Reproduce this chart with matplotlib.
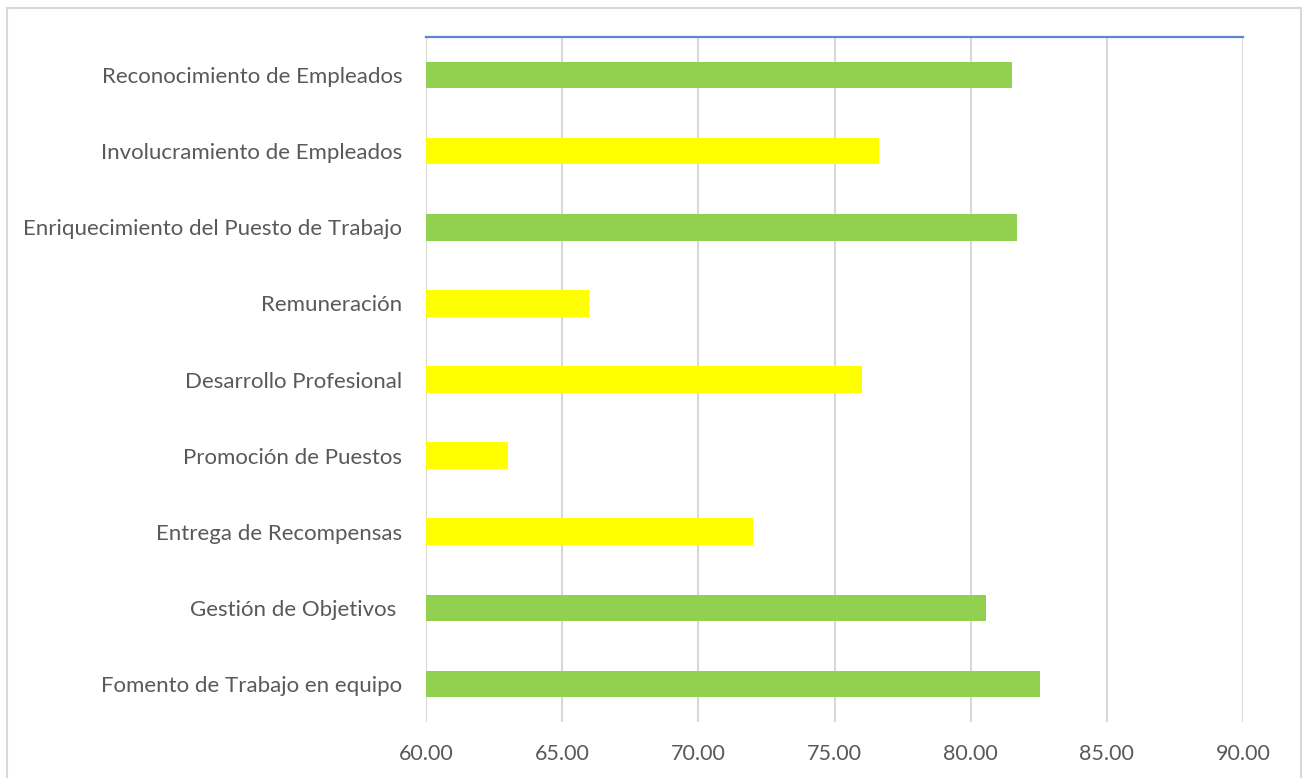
import matplotlib.pyplot as plt
from matplotlib.patches import Rectangle

# categories from bottom to top, as drawn
categorias = [
    "Fomento de Trabajo en equipo",
    "Gestión de Objetivos ",
    "Entrega de Recompensas",
    "Promoción de Puestos",
    "Desarrollo Profesional",
    "Remuneración",
    "Enriquecimiento del Puesto de Trabajo",
    "Involucramiento de Empleados",
    "Reconocimiento de Empleados",
]
valores = [82.55, 80.55, 72.0, 63.0, 76.0, 66.0, 81.7, 76.65, 81.5]
colores = ["#92D050", "#92D050", "#FFFF00", "#FFFF00", "#FFFF00",
           "#FFFF00", "#92D050", "#FFFF00", "#92D050"]
ticks_x = [60, 65, 70, 75, 80, 85, 90]

plt.rcParams['font.family'] = ['Lato', 'DejaVu Sans']

fig = plt.figure(figsize=(13.06, 7.78), dpi=100)
ax = fig.add_axes([426 / 1306, 1 - 722 / 778, (1243 - 426) / 1306, (722 - 37) / 778])

base = ticks_x[0]
ax.barh(range(len(categorias)), [v - base for v in valores], left=base,
        height=0.35, color=colores, zorder=3)

ax.set_xlim(ticks_x[0], ticks_x[-1])
ax.set_ylim(-0.5, len(categorias) - 0.5)
ax.set_xticks(ticks_x)
ax.set_xticklabels([f"{t:.2f}" for t in ticks_x])
ax.set_yticks(range(len(categorias)))
ax.set_yticklabels(categorias)

ax.grid(axis='x', color='#D9D9D9', linewidth=1.5, zorder=0)
ax.tick_params(axis='both', length=0, labelcolor='#595959')
ax.tick_params(axis='y', pad=17, labelsize=16)
ax.tick_params(axis='x', pad=16, labelsize=15.5)

for s in ['left', 'right', 'bottom']:
    ax.spines[s].set_visible(False)
ax.spines['top'].set_color('#5B87CC')
ax.spines['top'].set_linewidth(1.6)
ax.spines['top'].set_zorder(4)

# chart area border
fig.patches.append(Rectangle((7 / 1306, -0.05), (1301 - 7) / 1306, 1 + 0.05 - 8 / 778,
                             transform=fig.transFigure, fill=False,
                             edgecolor='#D9D9D9', linewidth=1.5))

fig.savefig("out.png", dpi=100)
